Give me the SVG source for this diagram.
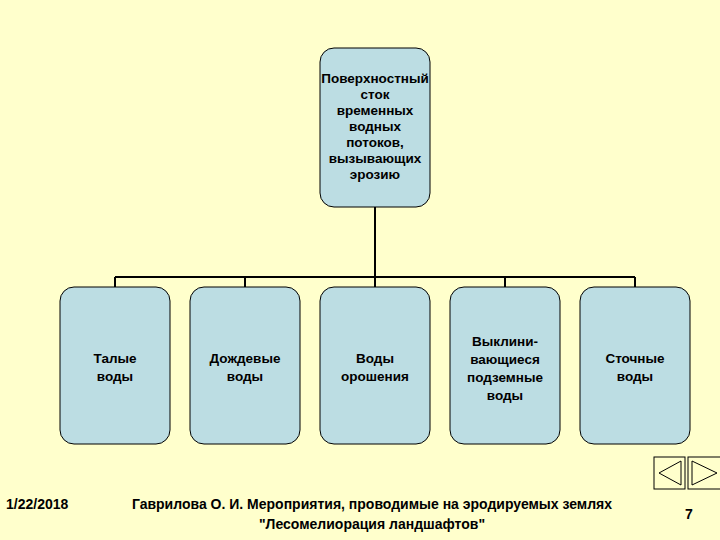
<svg xmlns="http://www.w3.org/2000/svg" width="720" height="540" viewBox="0 0 720 540">
<style>
.n{fill:#bcdde3;stroke:#000;stroke-width:1}
.t{font-family:"Liberation Sans",Arial,sans-serif;font-size:13.5px;font-weight:bold;text-anchor:middle;fill:#000}
.c{stroke:#000;stroke-width:2;fill:none}
.f{font-family:"Liberation Sans",Arial,sans-serif;font-size:14px;font-weight:bold;fill:#000}
.fm{font-family:"Liberation Sans",Arial,sans-serif;font-size:14px;font-weight:bold;fill:#000;text-anchor:middle}
</style>
<rect width="720" height="540" fill="#ffffcc"/>
<g id="connectors">
<path class="c" d="M375 207V277M115 277H635M115 277V287M245 277V287M375 277V287M505 277V287M635 277V287"/>
</g>
<g id="root"><rect class="n" x="320" y="48" width="110" height="159" rx="14"/>
<text class="t" x="375" y="83">Поверхностный</text><text class="t" x="375" y="99">сток</text><text class="t" x="375" y="115">временных</text><text class="t" x="375" y="131">водных</text><text class="t" x="375" y="147">потоков,</text><text class="t" x="375" y="163">вызывающих</text><text class="t" x="375" y="179">эрозию</text></g>
<g id="n1"><rect class="n" x="60" y="287" width="110" height="157" rx="14"/><text class="t" x="115" y="363">Талые</text><text class="t" x="115" y="381">воды</text></g>
<g id="n2"><rect class="n" x="190" y="287" width="110" height="157" rx="14"/><text class="t" x="245" y="363">Дождевые</text><text class="t" x="245" y="381">воды</text></g>
<g id="n3"><rect class="n" x="320" y="287" width="110" height="157" rx="14"/><text class="t" x="375" y="363">Воды</text><text class="t" x="375" y="381">орошения</text></g>
<g id="n4"><rect class="n" x="450" y="287" width="110" height="157" rx="14"/><text class="t" x="505" y="346">Выклини-</text><text class="t" x="505" y="364">вающиеся</text><text class="t" x="505" y="382">подземные</text><text class="t" x="505" y="400">воды</text></g>
<g id="n5"><rect class="n" x="580" y="287" width="110" height="157" rx="14"/><text class="t" x="635" y="363">Сточные</text><text class="t" x="635" y="381">воды</text></g>
<g id="nav" fill="none" stroke="#000" stroke-width="1">
<rect x="654" y="457" width="31" height="32"/><path d="M681 461V485L659 473Z"/>
<rect x="688" y="457" width="33" height="32"/><path d="M692 461V485L717 473Z"/>
</g>
<text class="f" x="6" y="509">1/22/2018</text>
<text class="fm" x="372" y="509">Гаврилова О. И. Мероприятия, проводимые на эродируемых землях</text>
<text class="fm" x="372" y="529">"Лесомелиорация ландшафтов"</text>
<text class="f" x="685" y="519">7</text>
</svg>
